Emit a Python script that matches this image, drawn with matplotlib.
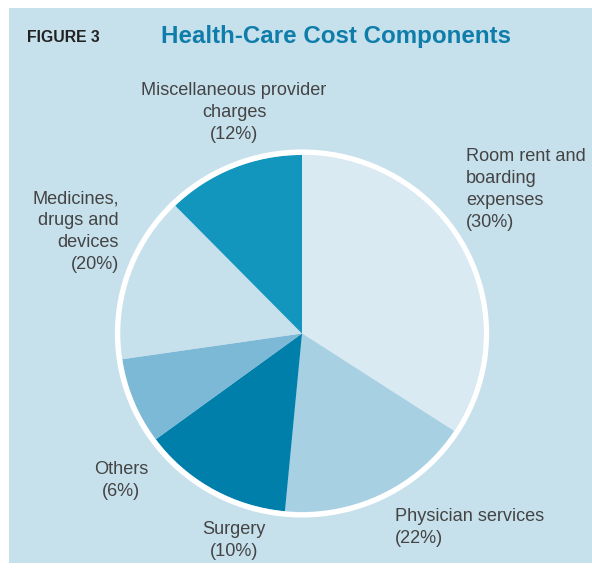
import matplotlib
matplotlib.use("Agg")
from matplotlib import pyplot as plt
from matplotlib.patches import Rectangle, Circle

# slice sizes as drawn (share of the circle, clockwise from 12 o'clock)
categories = ["Room rent and boarding expenses", "Physician services", "Surgery",
              "Others", "Medicines, drugs and devices", "Miscellaneous provider charges"]
shares = [34.2, 17.3, 13.4, 7.8, 15.0, 12.3]
label_texts = ["Room rent and\nboarding\nexpenses\n(30%)",
               "Physician services\n(22%)",
               "Surgery\n(10%)",
               "Others\n(6%)",
               "Medicines,\ndrugs and\ndevices\n(20%)",
               "Miscellaneous provider\ncharges\n(12%)"]
colors = ["#D9EAF2", "#A8D0E3", "#007FAB", "#7BB9D6", "#C6E0EC", "#1296BE"]

W, H = 592, 569
plt.rcParams['font.family'] = ['Liberation Sans', 'DejaVu Sans']

fig = plt.figure(figsize=(W / 100, H / 100), dpi=100)
fig.patch.set_facecolor("white")


def px(x, y):
    # pixel coords (from top-left) -> figure fraction
    return x / W, 1 - y / H


# light blue panel
fig.patches.append(Rectangle(px(9, 563), (W - 9) / W, (563 - 8) / H,
                             transform=fig.transFigure, facecolor="#C6E0EC",
                             edgecolor="none", zorder=-5))

# pie axes, centred on the picture's pie (the original is very slightly squashed)
cx, cy, rx, ry = 302, 333.5, 181.5, 178.5
m = 1.1
ax = fig.add_axes([(cx - m * rx) / W, (H - cy - m * ry) / H, 2 * m * rx / W, 2 * m * ry / H])
ax.patch.set_alpha(0)
ax.pie(shares, colors=colors, startangle=90, counterclock=False,
       radius=1, wedgeprops=dict(linewidth=0))
ax.add_patch(Circle((0, 0), 1.016, fill=False, edgecolor="white", linewidth=3.9))
ax.set_xlim(-m, m)
ax.set_ylim(-m, m)
ax.set_aspect("auto")
ax.axis("off")

txt = dict(fontsize=13.1, color="#444444", linespacing=1.38)

fig.text(*px(27, 38), "FIGURE 3", fontsize=11.3, fontweight="bold", color="#222222",
         ha="left", va="center")
fig.text(*px(336, 36), "Health-Care Cost Components", fontsize=17.4, fontweight="bold",
         color="#0F7DAA", ha="center", va="center")

# labels
fig.text(*px(466, 148), label_texts[0], ha="left", va="top", **txt)
fig.text(*px(395, 508), label_texts[1], ha="left", va="top", **txt)
fig.text(*px(234, 521), label_texts[2], ha="center", va="top", **txt)
fig.text(*px(121, 461), label_texts[3], ha="center", va="top", **txt)
fig.text(*px(119, 190), label_texts[4], ha="right", va="top", multialignment="right", **txt)
fig.text(*px(234, 82), label_texts[5], ha="center", va="top", multialignment="center", **txt)

fig.savefig("out.png", dpi=100, facecolor=fig.get_facecolor())
